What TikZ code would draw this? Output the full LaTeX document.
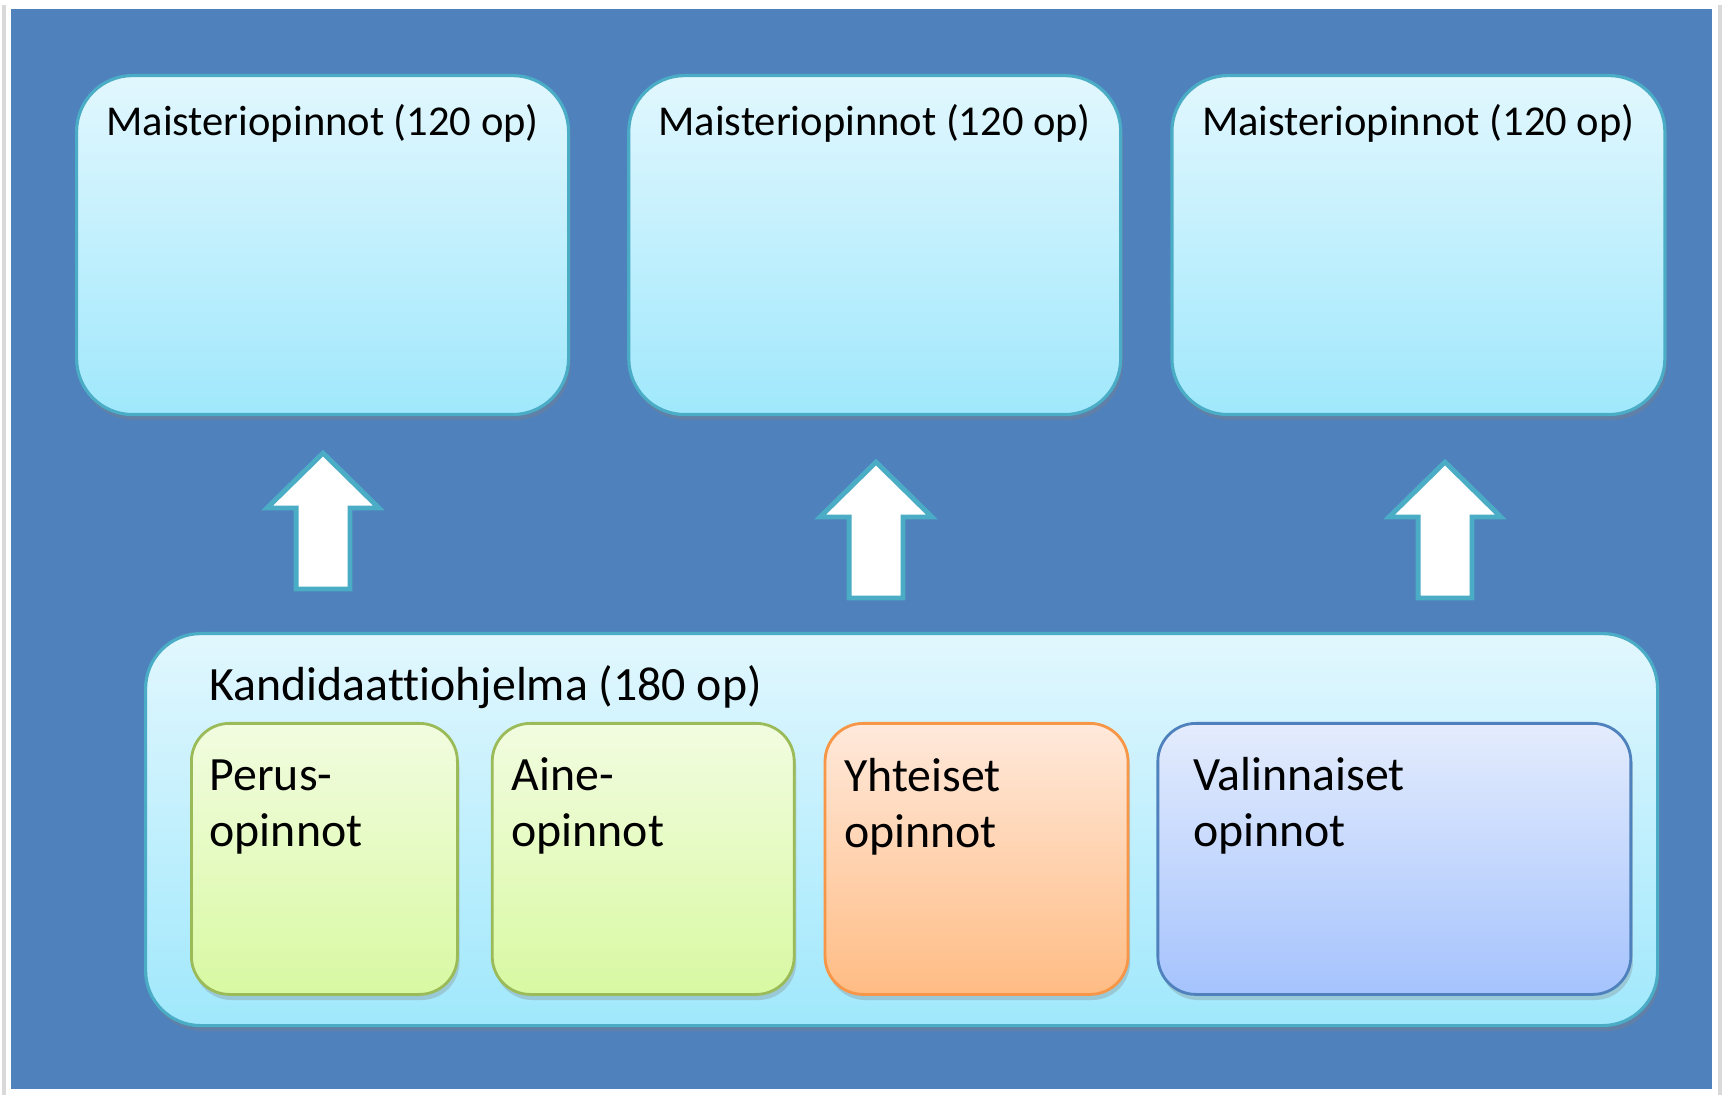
\documentclass[tikz,border=0pt]{standalone}
\usepackage{fontspec}
\setmainfont{Carlito}[Ligatures=NoCommon]
\usetikzlibrary{positioning,shadows,shapes.arrows}
\definecolor{slideblue}{HTML}{4F81BD}
\definecolor{aqua}{HTML}{4BACC6}
\definecolor{aquatop}{HTML}{E2F7FE}
\definecolor{aquabot}{HTML}{A0E8FC}
\definecolor{greenline}{HTML}{9BBB59}
\definecolor{greentop}{HTML}{F2FCE0}
\definecolor{greenbot}{HTML}{D8F9A2}
\definecolor{orangeline}{HTML}{F79646}
\definecolor{orangetop}{HTML}{FFE9DB}
\definecolor{orangebot}{HTML}{FFBC84}
\definecolor{lilatop}{HTML}{E4ECFD}
\definecolor{lilabot}{HTML}{A5C3FD}
\tikzset{
box/.style={rounded corners=0.56cm, draw=aqua, line width=0.9pt,
  top color=aquatop, bottom color=aquabot, inner sep=0pt,
  drop shadow={shadow xshift=0.6pt, shadow yshift=-1.6pt, opacity=0.35}},
part/.style={rounded corners=0.38cm, line width=0.8pt, inner sep=0pt,
  minimum height=2.71cm,
  drop shadow={shadow xshift=0.6pt, shadow yshift=-1.6pt, opacity=0.3}},
green/.style={part, draw=greenline, top color=greentop, bottom color=greenbot},
orange/.style={part, draw=orangeline, top color=orangetop, bottom color=orangebot},
lila/.style={part, draw=slideblue, top color=lilatop, bottom color=lilabot},
uparrow/.style={single arrow, rotate=90, anchor=tail, draw=aqua, fill=white,
  line width=1.4pt, minimum height=1.36cm, minimum width=0pt,
  inner xsep=0pt, inner ysep=0.245cm, single arrow head extend=0.29cm,
  single arrow tip angle=91},
mtitle/.style={anchor=base, inner sep=0pt, font=\fontsize{12.1}{14}\selectfont},
ptext/.style={anchor=base west, inner sep=0pt, align=left,
  font=\fontsize{13.6}{16.2}\selectfont},
}

\begin{document}
\begin{tikzpicture}
        \useasboundingbox (0,0) rectangle (17.23,-10.95);
        \fill[white] (0,0) rectangle (17.23,-10.95);
        \draw[black!15, line width=1pt] (0.04,-0.05) -- (0.04,-10.95);
        \draw[black!15, line width=1pt] (17.20,-0.05) -- (17.20,-10.95);
        \fill[slideblue] (0.11,-0.09) rectangle (17.12,-10.89);

        % master's programmes
        \node[box, anchor=north west, minimum width=4.92cm, minimum height=3.39cm] (m1) at (0.75,-0.74) {};
        \node[box, right=0.57cm of m1, minimum width=4.92cm, minimum height=3.39cm] (m2) {};
        \node[box, right=0.48cm of m2, minimum width=4.93cm, minimum height=3.39cm] (m3) {};
        \node[mtitle] (t1) at ([yshift=-0.62cm]m1.north) {Maisteriopinnot (120 op)};
        \node[mtitle] (t2) at ([yshift=-0.62cm]m2.north) {Maisteriopinnot (120 op)};
        \node[mtitle] (t3) at ([yshift=-0.62cm]m3.north) {Maisteriopinnot (120 op)};

        % bachelor's programme
        \node[box, rounded corners=0.55cm, anchor=north west, minimum width=15.12cm, minimum height=3.92cm] (kand) at (1.44,-6.32) {};
        \node[ptext] (kt) at ([xshift=0.65cm,yshift=-0.69cm]kand.north west) {Kandidaattiohjelma (180 op)};

        \node[green, anchor=north west, minimum width=2.66cm] (perus) at (1.90,-7.22) {};
        \node[green, right=0.32cm of perus, minimum width=3.02cm] (aine) {};
        \node[orange, right=0.28cm of aine, minimum width=3.03cm] (yht) {};
        \node[lila, right=0.27cm of yht, minimum width=4.73cm] (val) {};

        % base of a two-line text is its second line
        \node[ptext] (pt) at ([xshift=0.19cm,yshift=-1.25cm]perus.north west) {Perus-\\opinnot};
        \node[ptext] (at) at ([xshift=0.20cm,yshift=-1.25cm]aine.north west) {Aine-\\opinnot};
        \node[ptext] (yt) at ([xshift=0.20cm,yshift=-1.26cm]yht.north west) {Yhteiset\\opinnot};
        \node[ptext] (vt) at ([xshift=0.36cm,yshift=-1.25cm]val.north west) {Valinnaiset\\opinnot};

        % arrows
        \node[uparrow] (a1) at (3.23,-5.915) {};
        \node[uparrow] (a2) at (8.76,-6.005) {};
        \node[uparrow] (a3) at (14.45,-6.005) {};
    \end{tikzpicture}
\end{document}
